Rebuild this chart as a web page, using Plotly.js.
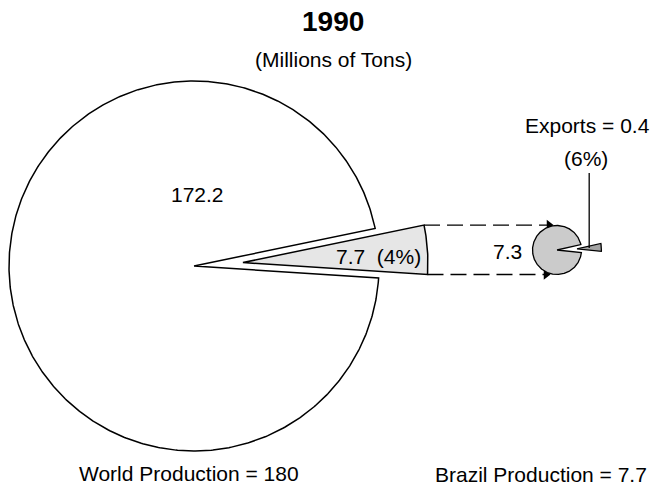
<!DOCTYPE html>
<html>
<head>
<meta charset="utf-8">
<script src="https://cdn.plot.ly/plotly-3.0.1.min.js"></script>
<style>
  html, body { margin: 0; padding: 0; background: #fff; }
  #chart { width: 667px; height: 488px; }
</style>
</head>
<body>
<div id="chart"></div>
<script>
// Chart data
const titleText = '1990';
const subtitleText = '(Millions of Tons)';
const worldValues = [172.2, 7.7];      // rest of world, Brazil
const brazilValues = [7.3, 0.4];       // domestic, exports
const sharePct = ['4%', '6%'];
const totals = [180, 7.7];
const footerNames = ['World Production', 'Brazil Production'];
const exportName = 'Exports';

document.addEventListener("DOMContentLoaded", function () {
    const FONT = 'Liberation Sans, Arial, sans-serif';

    // pie geometry (axis units = pixels, y axis reversed)
    const big = { cx: 194, cy: 266, r: 185, start: -3.7, pull: 49 };
    const small = { cx: 557, cy: 250, r: 24.5, start: -6, pull: 20 };

    const rad = a => a * Math.PI / 180;
    const sum = arr => arr.reduce((s, v) => s + v, 0);

    function arc(cx, cy, r, a0, a1) {
        const xs = [], ys = [];
        const n = Math.max(2, Math.ceil(Math.abs(a1 - a0) / 0.5));
        for (let i = 0; i <= n; i++) {
            const a = a0 + (a1 - a0) * i / n;
            xs.push(cx + r * Math.cos(rad(a)));
            ys.push(cy - r * Math.sin(rad(a)));
        }
        return { xs, ys };
    }

    // split a pie into the main body and a pulled-out slice
    function splitPie(p, values) {
        const span = values[1] / sum(values) * 360;
        const a0 = p.start, a1 = p.start + span;
        const mid = (a0 + a1) / 2;
        const tip = {
            x: p.cx + p.pull * Math.cos(rad(mid)),
            y: p.cy - p.pull * Math.sin(rad(mid))
        };
        const bodyArc = arc(p.cx, p.cy, p.r, a1, a0 + 360);
        const sliceArc = arc(tip.x, tip.y, p.r, a0, a1);
        return {
            a0, a1, mid, tip,
            body: { x: [p.cx, ...bodyArc.xs, p.cx], y: [p.cy, ...bodyArc.ys, p.cy] },
            slice: { x: [tip.x, ...sliceArc.xs, tip.x], y: [tip.y, ...sliceArc.ys, tip.y] }
        };
    }

    const w = splitPie(big, worldValues);
    const b = splitPie(small, brazilValues);

    function shape(pts, fill, width) {
        return {
            x: pts.x, y: pts.y, type: 'scatter', mode: 'lines',
            fill: 'toself', fillcolor: fill,
            line: { color: '#000', width: width }, hoverinfo: 'skip'
        };
    }

    // dashed connectors from the pulled slice to the small pie
    const topY = w.tip.y - big.r * Math.sin(rad(w.a1));
    const topX = w.tip.x + big.r * Math.cos(rad(w.a1));
    const botY = w.tip.y - big.r * Math.sin(rad(w.a0));
    const botX = w.tip.x + big.r * Math.cos(rad(w.a0));

    function connector(x0, y0, x1) {
        return {
            x: [x0, x1], y: [y0, y0], type: 'scatter', mode: 'lines',
            line: { color: '#000', width: 1.3, dash: '16px,7px' }, hoverinfo: 'skip'
        };
    }
    const arrowHeads = {
        x: [small.cx - 8, small.cx - 11], y: [topY, botY],
        type: 'scatter', mode: 'markers',
        marker: { symbol: 'triangle-right', size: 9, color: '#000' }, hoverinfo: 'skip'
    };

    // leader line from the exports slice up to its label
    const leadX = b.tip.x + small.r * 0.5 * Math.cos(rad(b.mid));
    const leadY = b.tip.y - small.r * 0.5 * Math.sin(rad(b.mid));
    const leader = {
        x: [leadX, leadX], y: [leadY, 173], type: 'scatter', mode: 'lines',
        line: { color: '#000', width: 1.3 }, hoverinfo: 'skip'
    };

    const traces = [
        shape(w.body, '#ffffff', 1.5),
        shape(w.slice, '#e6e6e6', 1.5),
        connector(topX, topY, small.cx - 8),
        connector(botX, botY, small.cx - 11),
        arrowHeads,
        shape(b.body, '#cbcbcb', 1.3),
        shape(b.slice, '#a3a3a3', 1.3),
        leader
    ];

    function label(text, x, y, size, bold) {
        return {
            text: bold ? '<b>' + text + '</b>' : text,
            x: x, y: y, xref: 'x', yref: 'y',
            xanchor: 'center', yanchor: 'middle', showarrow: false,
            font: { family: FONT, size: size, color: '#000' }
        };
    }

    const sliceLabelX = w.tip.x + big.r * 0.735 * Math.cos(rad(w.mid));
    const sliceLabelY = w.tip.y - big.r * 0.735 * Math.sin(rad(w.mid)) + 3;

    const annotations = [
        label(titleText, 333, 21, 28, true),
        label(subtitleText, 333, 59, 21),
        label(worldValues[0].toFixed(1), big.cx + 3, big.cy - 72, 21),
        label(worldValues[1].toFixed(1) + '  (' + sharePct[0] + ')', sliceLabelX, sliceLabelY, 21),
        label(brazilValues[0].toFixed(1), small.cx - 50, small.cy + 1, 21),
        label(exportName + ' = ' + brazilValues[1].toFixed(1), 587, 125, 21),
        label('(' + sharePct[1] + ')', 586, 158, 21),
        label(footerNames[0] + ' = ' + totals[0], 189, 473, 21),
        label(footerNames[1] + ' = ' + totals[1], 541, 474, 21)
    ];

    const layout = {
        width: 667, height: 488,
        margin: { l: 0, r: 0, t: 0, b: 0 },
        paper_bgcolor: '#fff', plot_bgcolor: '#fff',
        showlegend: false, hovermode: false,
        xaxis: { range: [0, 667], visible: false, fixedrange: true },
        yaxis: { range: [488, 0], visible: false, fixedrange: true },
        annotations: annotations
    };

    Plotly.newPlot('chart', traces, layout, { staticPlot: true, displayModeBar: false });
});
</script>
</body>
</html>
